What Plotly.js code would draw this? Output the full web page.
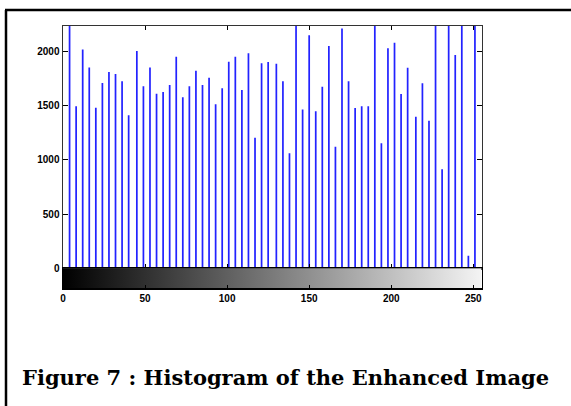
<!DOCTYPE html>
<html>
<head>
<meta charset="utf-8">
<script src="https://cdn.plot.ly/plotly-3.0.1.min.js"></script>
<style>
html,body{margin:0;padding:0;background:#fff;}
#chart{width:571px;height:406px;}
</style>
</head>
<body>
<div id="chart"></div>
<script>
// Gray levels (histogram bins with non-zero counts)
var grayLevels = [4,8,12,16,20,24,28,32,36,40,45,49,53,57,61,65,69,73,77,81,85,89,93,97,101,105,109,113,117,121,125,130,134,138,142,146,150,154,158,162,166,170,174,178,182,186,190,194,198,202,206,210,215,219,223,227,231,235,239,243,247,251];
// Pixel counts per gray level (values above 2237 are clipped by the axes)
var pixelCounts = [2600,1495,2020,1855,1482,1710,1812,1793,1728,1413,2006,1680,1855,1612,1628,1692,1954,1579,1680,1825,1692,1760,1514,1662,1908,1954,1646,1985,1206,1893,1905,1889,1726,1062,2600,1465,2151,1449,1677,2052,1123,2213,1726,1480,1496,1496,2600,1154,2031,2083,1609,1852,1400,1708,1363,2600,914,2600,1970,2600,115,2600];
// Axis ticks
var xTicks = [0,50,100,150,200,250];
var xTickLabels = ['0','50','100','150','200','250'];
var yTicks = [0,500,1000,1500,2000];
var yTickLabels = ['0','500','1000','1500','2000'];
var grayRange = [0,255];
var captionText = 'Figure 7 : Histogram of the Enhanced Image';

var W = 571, H = 406;
var xDom = [63/W, 481.5/W];
var histDom = [(H-268.3)/H, (H-26)/H];
var barDom = [(H-288.3)/H, (H-268.3)/H];

var tickFont = {family:'Liberation Sans, Arial, sans-serif', size:10, color:'#000', weight:'bold'};

var histTrace = {
  type:'bar', x:grayLevels, y:pixelCounts, width:1.05,
  marker:{color:'#2222ff', line:{width:0}},
  xaxis:'x', yaxis:'y', hoverinfo:'x+y'
};

var g0 = grayRange[0], g1 = grayRange[1];
var gradTrace = {
  type:'scatter', mode:'lines',
  x:[g0,g1,g1,g0,g0], y:[0,0,1,1,0],
  fill:'toself',
  fillgradient:{type:'horizontal', colorscale:[[0,'#000000'],[1,'#f4f4f4']]},
  line:{width:0, color:'rgba(0,0,0,0)'},
  xaxis:'x2', yaxis:'y2', hoverinfo:'skip', showlegend:false
};

var layout = {
  width:W, height:H, autosize:false,
  margin:{l:0,r:0,t:0,b:0},
  paper_bgcolor:'#fff', plot_bgcolor:'#fff',
  showlegend:false,
  xaxis:{domain:xDom, anchor:'y', range:grayRange, tickvals:xTicks, ticktext:xTickLabels,
    showticklabels:false, ticks:'inside', ticklen:4, tickcolor:'#000',
    showline:true, linecolor:'#333', linewidth:1.5, mirror:'ticks',
    showgrid:false, zeroline:false, fixedrange:true},
  yaxis:{domain:histDom, anchor:'x', range:[0,2237], tickvals:yTicks, ticktext:yTickLabels,
    ticks:'inside', ticklen:5, tickcolor:'#000', tickfont:tickFont,
    showline:true, linecolor:'#333', linewidth:1.5, mirror:'ticks',
    showgrid:false, zeroline:false, fixedrange:true},
  xaxis2:{domain:xDom, anchor:'y2', range:grayRange, tickvals:xTicks, ticktext:xTickLabels,
    ticks:'inside', ticklen:3, tickcolor:'#000', tickfont:tickFont,
    showline:true, linecolor:'#000', linewidth:1.5, mirror:true,
    showgrid:false, zeroline:false, fixedrange:true},
  yaxis2:{domain:barDom, anchor:'x2', range:[0,1], showticklabels:false, ticks:'',
    showline:true, linecolor:'#000', linewidth:1.5, mirror:true,
    showgrid:false, zeroline:false, fixedrange:true},
  shapes:[
    {type:'line', xref:'paper', yref:'paper', x0:5/W, x1:1, y0:(H-10)/H, y1:(H-10)/H, line:{color:'#000', width:2.5}},
    {type:'line', xref:'paper', yref:'paper', x0:6/W, x1:6/W, y0:(H-10)/H, y1:0, line:{color:'#000', width:2.5}}
  ],
  annotations:[
    {text:'<b>'+captionText+'</b>', xref:'paper', yref:'paper', x:20/W, y:(H-377)/H,
     xanchor:'left', yanchor:'middle', showarrow:false,
     font:{family:'DejaVu Serif, serif', size:21, color:'#000'}}
  ]
};

Plotly.newPlot('chart', [histTrace, gradTrace], layout, {staticPlot:true, displayModeBar:false});
</script>
</body>
</html>
